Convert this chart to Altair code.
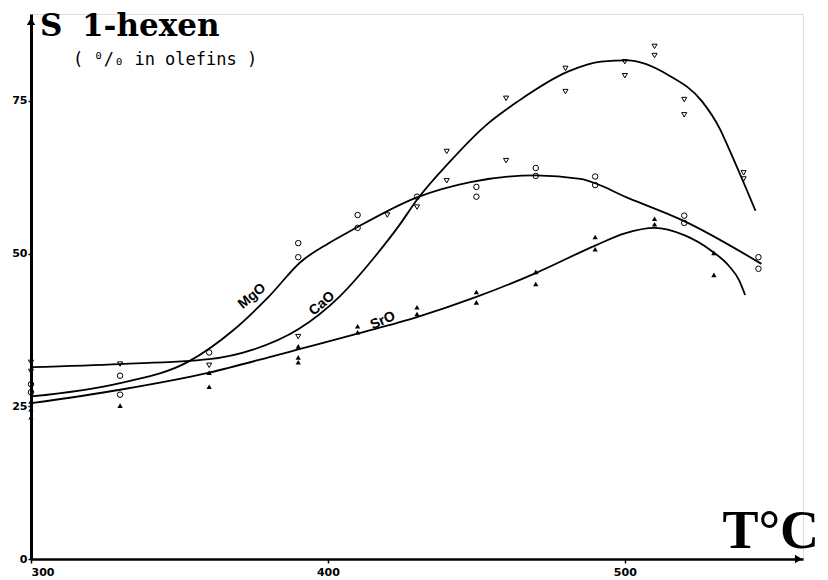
import altair as alt
import pandas as pd

# ---- measured points (temperature, % 1-hexene in olefins) ----
mgo_x = [300, 300, 330, 330, 360, 390, 390, 410, 410, 430, 450, 450, 470, 470, 490, 490, 520, 520, 545, 545]
mgo_y = [28.6, 27.3, 30.0, 26.9, 33.8, 51.7, 49.4, 56.3, 54.2, 59.3, 60.9, 59.3, 64.0, 62.7, 62.6, 61.2, 56.2, 55.0, 49.4, 47.5]

cao_x = [300, 300, 330, 360, 390, 420, 430, 440, 440, 460, 460, 480, 480, 500, 500, 510, 510, 520, 520, 540, 540]
cao_y = [32.2, 30.7, 31.9, 31.7, 36.4, 56.3, 57.6, 66.7, 61.9, 65.2, 75.4, 80.3, 76.5, 81.4, 79.1, 83.9, 82.4, 75.2, 72.7, 63.2, 62.2]

sro_x = [300, 300, 300, 330, 360, 360, 390, 390, 390, 410, 410, 430, 430, 450, 450, 470, 470, 490, 490, 510, 510, 530, 530]
sro_y = [25.8, 24.5, 23.2, 25.1, 30.5, 28.2, 34.8, 33.0, 32.2, 38.1, 37.1, 41.2, 40.1, 43.7, 42.0, 47.0, 45.0, 52.7, 50.7, 55.7, 54.8, 50.1, 46.5]

# ---- fitted curves ----
mgo_cx = [300, 330, 353, 368, 380, 391, 400, 408, 430, 448, 470, 485, 502, 520, 546]
mgo_cy = [26.6, 28.8, 32.3, 37.4, 42.9, 48.7, 51.6, 53.8, 59.2, 61.7, 62.8, 62.2, 58.9, 55.3, 48.3]

cao_cx = [300, 330, 360, 375, 390, 404, 416, 424, 430, 441, 453, 464, 481, 492, 501, 515, 526, 532, 535, 544]
cao_cy = [31.4, 31.9, 32.7, 34.3, 37.6, 43.0, 49.6, 54.6, 58.8, 65.0, 70.9, 74.9, 79.8, 81.4, 81.6, 79.1, 74.9, 70.4, 67.2, 57.0]

sro_cx = [300, 330, 360, 380, 390, 410, 430, 450, 470, 490, 500, 510, 520, 529, 535, 538.5, 540.5]
sro_cy = [25.5, 27.7, 30.5, 33.0, 34.3, 36.9, 39.6, 42.9, 46.8, 51.3, 53.3, 54.2, 53.0, 50.5, 48.0, 45.6, 43.2]

x_ticks = [300, 400, 500]
y_ticks = [0, 25, 50, 75]

curve_labels = ["MgO", "CaO", "SrO"]
label_x = [374.5, 398.0, 418.5]
label_y = [43.0, 41.8, 39.0]
label_angle = [320, 319, 336]

xs = alt.Scale(domain=[300, 560], nice=False, zero=False)
ys = alt.Scale(domain=[0, 89.2], nice=False, zero=False)

xax = alt.Axis(values=x_ticks, title=None, grid=False, domainColor="black", domainWidth=2.5,
               tickColor="black", tickSize=4, tickWidth=1.5, labelFont="DejaVu Sans",
               labelFontWeight="bold", labelFontSize=11, labelColor="black", labelPadding=3)
yax = alt.Axis(values=y_ticks, title=None, grid=False, domainColor="black", domainWidth=3,
               tickColor="black", tickSize=3, tickWidth=1.5, labelFont="DejaVu Sans",
               labelFontWeight="bold", labelFontSize=11, labelColor="black", labelPadding=1)


def curve(cx, cy):
    df = pd.DataFrame({"T": cx, "S": cy})
    return alt.Chart(df).mark_line(color="black", strokeWidth=1.8, interpolate="monotone").encode(
        x=alt.X("T:Q", scale=xs, axis=xax), y=alt.Y("S:Q", scale=ys, axis=yax))


def pts(px, py, shape, filled, size):
    df = pd.DataFrame({"T": px, "S": py})
    return alt.Chart(df).mark_point(shape=shape, filled=filled, color="black", size=size,
                                    strokeWidth=1.0, opacity=1).encode(
        x=alt.X("T:Q", scale=xs), y=alt.Y("S:Q", scale=ys))


base = [
    curve(mgo_cx, mgo_cy),
    curve(cao_cx, cao_cy),
    curve(sro_cx, sro_cy),
    pts(mgo_x, mgo_y, "circle", False, 30),
    pts(cao_x, cao_y, "triangle-down", False, 26),
    pts(sro_x, sro_y, "triangle-up", True, 28),
]

lab_df = pd.DataFrame({"T": label_x, "S": label_y, "name": curve_labels})
labels = []
for i in range(3):
    labels.append(
        alt.Chart(lab_df.iloc[[i]]).mark_text(font="Liberation Sans", fontWeight="bold", fontSize=14,
                                             angle=label_angle[i], color="black").encode(
            x=alt.X("T:Q", scale=xs), y=alt.Y("S:Q", scale=ys), text="name:N"))

one = pd.DataFrame({"a": [0]})
arrows = [
    alt.Chart(pd.DataFrame({"T": [300], "S": [88.0]})).mark_point(
        shape="triangle-up", filled=True, color="black", size=70, opacity=1).encode(
        x=alt.X("T:Q", scale=xs), y=alt.Y("S:Q", scale=ys)),
    alt.Chart(pd.DataFrame({"T": [558.5], "S": [0]})).mark_point(
        shape="triangle-right", filled=True, color="black", size=70, opacity=1).encode(
        x=alt.X("T:Q", scale=xs), y=alt.Y("S:Q", scale=ys)),
]

texts = [
    alt.Chart(one).mark_text(text="S", font="DejaVu Serif", fontWeight="bold", fontSize=31,
                             align="left", baseline="alphabetic", color="black").encode(
        x=alt.value(9), y=alt.value(22)),
    alt.Chart(one).mark_text(text="1-hexen", font="DejaVu Serif", fontWeight="bold", fontSize=31,
                             align="left", baseline="alphabetic", color="black").encode(
        x=alt.value(51), y=alt.value(22)),
    alt.Chart(one).mark_text(text="( ⁰/₀ in olefins )", font="DejaVu Sans Mono", fontSize=17,
                             align="left", baseline="alphabetic", color="black").encode(
        x=alt.value(42), y=alt.value(51)),
    alt.Chart(one).mark_text(text="T°C", font="Liberation Serif", fontWeight="bold", fontSize=54,
                             align="right", baseline="alphabetic", color="black").encode(
        x=alt.value(788), y=alt.value(534)),
]

chart = alt.layer(*base, *labels, *arrows, *texts).properties(
    width=772, height=545, autosize="none",
    padding={"left": 23, "top": 6, "right": 17, "bottom": 21},
).configure_view(stroke=None).configure(background="white")

chart.save("out.html", embed_options={"renderer": "svg", "actions": False})
